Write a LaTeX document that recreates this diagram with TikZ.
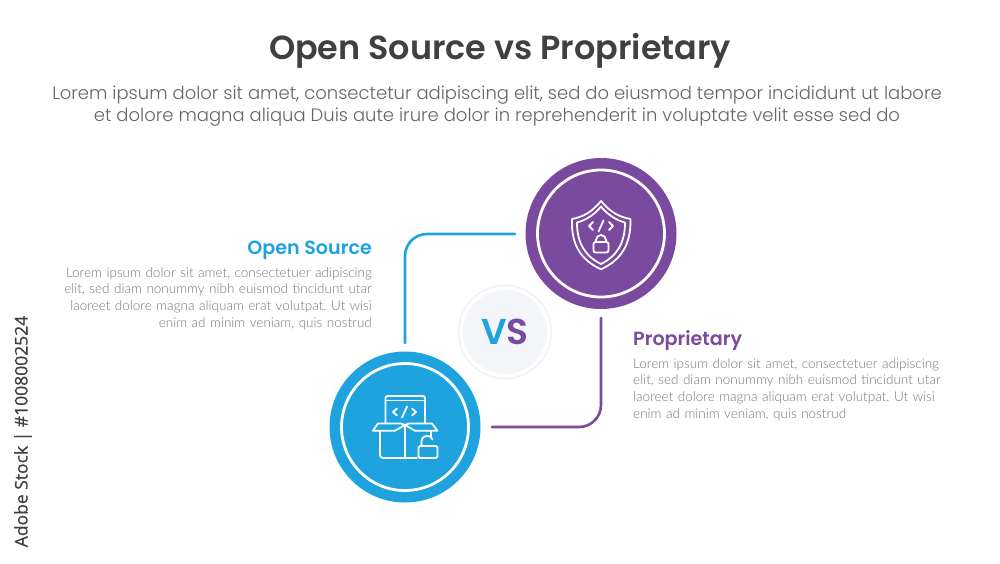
\documentclass[tikz,border=0pt]{standalone}
\usepackage{fontspec}
\setmainfont{Poppins}
\newfontfamily\popl{Poppins Light}
\newfontfamily\popb{Poppins SemiBold}
\newfontfamily\bodyf{Lato Light}
\newfontfamily\sidef[FakeBold=0.6]{Open Sans}
\definecolor{blueC}{HTML}{1FA3DE}
\definecolor{purpleC}{HTML}{7A4A9E}
\definecolor{titleC}{HTML}{404040}
\definecolor{subC}{HTML}{666666}
\definecolor{bodyC}{HTML}{777777}
\definecolor{vsC}{HTML}{F3F5F8}
\definecolor{vsR}{HTML}{F1F2F4}
\tikzset{
  disc/.style={circle,minimum size=151pt,inner sep=0pt},
  ringline/.style={draw=white,line width=2.8pt,fill=none},
  conn/.style={line width=2.6pt,line cap=round,rounded corners=22pt},
  ico/.style={draw=white,line width=1.8pt,line join=round,line cap=round},
  para/.style={font=\fontsize{13.5}{16.7}\selectfont\bodyf\frenchspacing,text=bodyC,inner sep=0pt,text width=340pt},
  headb/.style={font=\fontsize{19.1}{22}\selectfont\popb,inner sep=0pt}
}
\begin{document}
\begin{tikzpicture}[x=1pt,y=-1pt]
\useasboundingbox (0,0) rectangle (1000,563);
\fill[white] (0,0) rectangle (1000,563);
\node[font=\fontsize{33.4}{38}\selectfont\popb,text=titleC,inner sep=0pt] (title) at (500,51) {Open Source vs Proprietary};
\node[font=\fontsize{18}{22}\selectfont\popl,text=subC,inner sep=0pt,align=center] (sub) at (497,106) {Lorem ipsum dolor sit amet, consectetur adipiscing elit, sed do eiusmod tempor incididunt ut labore\\et dolore magna aliqua Duis aute irure dolor in reprehenderit in voluptate velit esse sed do};
% VS
\node[circle,minimum size=93pt,inner sep=0pt,draw=vsR,line width=1.6pt,fill=white] (vsout) at (505,332) {};
\node[circle,minimum size=84pt,inner sep=0pt,fill=vsC] (vsin) at (505,332) {};
\node[inner sep=0pt,font=\fontsize{36}{40}\selectfont\popb] (vs) at (505,332) {\textcolor{blueC}{V}\textcolor{purpleC}{S}};
% discs
\node[disc,fill=blueC] (bd) at (405,427) {};
\node[disc,fill=purpleC] (pd) at (601,233.5) {};
\node[circle,minimum size=127pt,inner sep=0pt,ringline] (br) at (405,427) {};
\node[circle,minimum size=127pt,inner sep=0pt,ringline] (pr) at (601,233.5) {};
% connectors
\coordinate (c1a) at (405,343);
\coordinate (c1b) at (515,234);
\coordinate (c2a) at (601,318);
\coordinate (c2b) at (492,427);
\draw[conn,draw=blueC] (c1a) |- (c1b);
\draw[conn,draw=purpleC] (c2a) |- (c2b);
% box icon
\draw[ico] (385.5,423) -- (385.5,398) arc[start angle=180,end angle=270,radius=2] -- (423,396) arc[start angle=-90,end angle=0,radius=2] -- (425,423);
\draw[ico] (385.5,400.5) -- (425,400.5);
\draw[ico] (397,408.5) -- (393,412) -- (397,415.5);
\draw[ico] (412,408.5) -- (416,412) -- (412,415.5);
\draw[ico] (407,406.5) -- (402,417.5);
\draw[ico] (405,425) -- (401,423.5) -- (378,423.5) -- (372.8,430.7) -- (395,430.7) -- cycle;
\draw[ico] (405,425) -- (409,423.5) -- (432,423.5) -- (437.5,430.7) -- (415,430.7) -- cycle;
\draw[ico] (405,425) -- (405,458);
\draw[ico] (380,431) -- (380,455) arc[start angle=180,end angle=90,radius=3] -- (417,458);
\draw[ico] (431,431) -- (431,437);
\draw[ico,rounded corners=1.5pt] (418.5,446) rectangle (437.5,458);
\draw[ico] (421.5,446) -- (421.5,441.5) arc[start angle=180,end angle=340,radius=5.7];
% shield icon
\draw[ico] (601,201) .. controls (592,212) and (583,217) .. (572,219) .. controls (571,245) and (581,260) .. (601,269.3) .. controls (621,260) and (631,245) .. (630.5,219) .. controls (619,217) and (610,212) .. (601,201) -- cycle;
\draw[ico] (601,206.5) .. controls (594,215) and (586,220) .. (577,222.5) .. controls (577,243) and (585,256) .. (601,264) .. controls (617,256) and (625,243) .. (625,222.5) .. controls (616,220) and (608,215) .. (601,206.5) -- cycle;
\draw[ico] (593,222) -- (589,226) -- (593,230);
\draw[ico] (609,222) -- (613,226) -- (609,230);
\draw[ico] (603.5,220.5) -- (598.5,231.5);
\draw[ico,rounded corners=1.5pt] (593.5,242) rectangle (608.5,252.5);
\draw[ico] (596,242) -- (596,240) arc[start angle=180,end angle=360,radius=5] -- (606,242);
% left text
\node[headb,text=blueC,anchor=east] (h1) at (372,250) {Open Source};
\node[para,align=right,anchor=north east] (p1) at (372,267) {Lorem ipsum dolor sit amet, consectetuer adipiscing\\elit, sed diam nonummy nibh euismod tincidunt utar\\laoreet dolore magna aliquam erat volutpat. Ut wisi\\enim ad minim veniam, quis nostrud};
% right text
\node[headb,text=purpleC,anchor=west] (h2) at (633,341) {Proprietary};
\node[para,align=left,anchor=north west] (p2) at (633,358) {Lorem ipsum dolor sit amet, consectetuer adipiscing\\elit, sed diam nonummy nibh euismod tincidunt utar\\laoreet dolore magna aliquam erat volutpat. Ut wisi\\enim ad minim veniam, quis nostrud};
% side label
\node[rotate=90,font=\fontsize{17.5}{22}\selectfont\sidef,text=titleC,inner sep=0pt] (side) at (23,431.5) {Adobe Stock | \#1008002524};
\end{tikzpicture}
\end{document}
